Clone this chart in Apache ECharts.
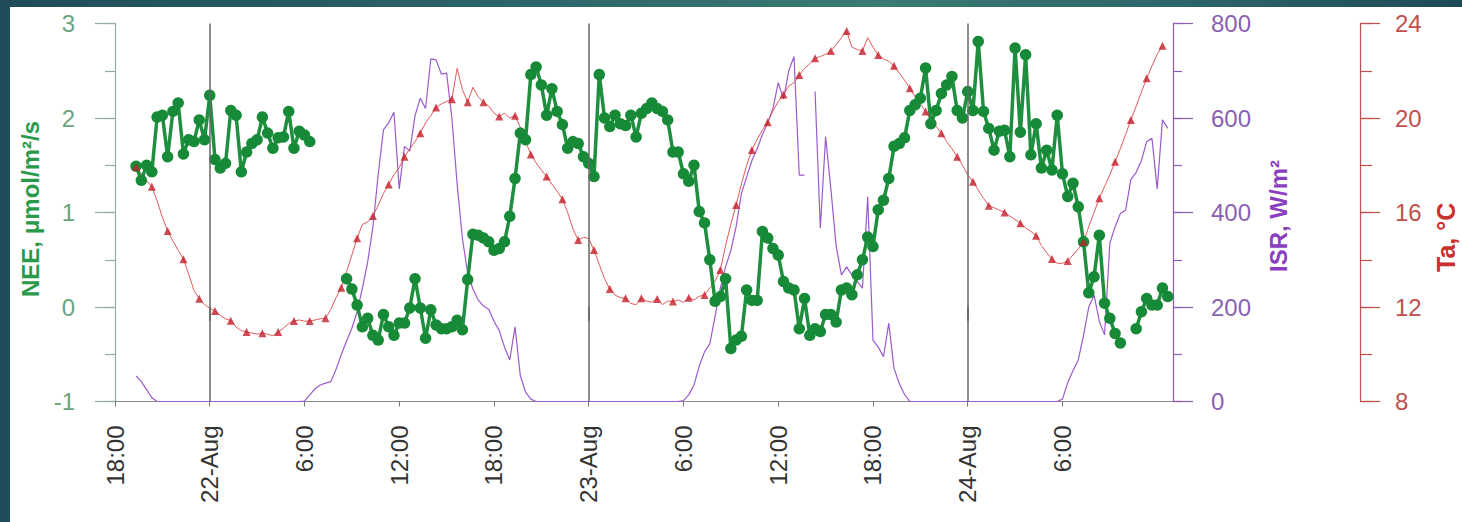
<!DOCTYPE html>
<html><head><meta charset="utf-8">
<script src="https://cdn.jsdelivr.net/npm/echarts@6/dist/echarts.min.js"></script>
<style>
html,body{margin:0;padding:0;width:1462px;height:522px;overflow:hidden;
background:linear-gradient(90deg,#1e4d59 0%,#2c6468 35%,#3b7b74 60%,#2a6066 85%,#1d4a57 100%);}
#chart{position:absolute;left:10px;top:7px;width:1452px;height:515px;background:#fff;}
</style></head><body><div id="chart"></div>
<script>
// time base: hours after 21-Aug 18:00; records every 20 minutes starting 19:20
const startHour = 4 / 3;
const stepHour = 1 / 3;
const xTickLabels = ['18:00','22-Aug','6:00','12:00','18:00','23-Aug','6:00','12:00','18:00','24-Aug','6:00'];
const xTickHours = [0,6,12,18,24,30,36,42,48,54,60];
const dayLineHours = [6, 30, 54];

// NEE, umol/m2/s (null = missing)
const nee = [
1.49,1.34,1.50,1.43,2.01,2.03,1.59,2.07,2.16,1.62,
1.77,1.75,1.98,1.77,2.24,1.56,1.47,1.52,2.08,2.03,
1.43,1.64,1.73,1.77,2.01,1.84,1.68,1.79,1.80,2.07,
1.68,1.86,1.82,1.75,null,null,null,null,null,null,
0.30,0.19,0.02,-0.21,-0.12,-0.30,-0.35,-0.08,-0.21,-0.30,
-0.17,-0.17,-0.01,0.30,-0.01,-0.33,-0.03,-0.19,-0.23,-0.23,
-0.21,-0.14,-0.24,0.29,0.77,0.76,0.73,0.69,0.60,0.62,
0.69,0.96,1.36,1.84,1.77,2.46,2.54,2.35,2.03,2.31,
2.07,1.93,1.68,1.75,1.73,1.59,1.52,1.38,2.46,2.00,
1.91,2.03,1.94,1.92,2.03,1.80,2.05,2.10,2.16,2.10,
2.07,1.98,1.64,1.64,1.41,1.33,1.50,1.01,0.89,0.50,
0.06,0.11,0.30,-0.44,-0.35,-0.31,0.18,0.07,0.07,0.80,
0.73,0.62,0.55,0.27,0.20,0.18,-0.23,0.09,-0.30,-0.23,
-0.26,-0.08,-0.08,-0.16,0.18,0.20,0.13,0.34,0.50,0.74,
0.64,1.03,1.13,1.36,1.70,1.73,1.79,2.08,2.14,2.21,
2.53,1.94,2.08,2.26,2.35,2.44,2.08,2.00,2.28,2.08,
2.81,2.07,1.89,1.66,1.86,1.87,1.59,2.74,1.85,2.67,
1.61,1.94,1.47,1.66,1.45,2.03,1.41,1.17,1.31,1.06,
0.69,0.15,0.32,0.76,0.04,-0.12,-0.28,-0.38,null,null,
-0.23,-0.05,0.09,0.02,0.02,0.20,0.11
];

// ISR, W/m2
const isr = [
54,42,25,8,0,0,0,0,0,0,
0,0,0,0,0,0,0,0,0,0,
0,0,0,0,0,0,0,0,0,0,
0,0,1,14,27,35,39,42,68,100,
128,155,190,240,295,370,480,575,590,612,
450,540,530,605,642,620,725,723,693,695,
600,460,345,272,238,215,202,195,170,150,
115,88,158,55,20,5,0,0,0,0,
0,0,0,0,0,0,0,0,0,0,
0,0,0,0,0,0,0,0,0,0,
0,0,0,0,2,14,35,75,105,122,
180,240,285,320,370,440,475,510,535,565,
590,620,675,640,700,730,479,479,null,656,
367,560,450,330,268,285,268,254,240,433,
130,115,95,166,70,38,15,0,0,0,
0,0,0,0,0,0,0,0,0,0,
0,0,0,0,0,0,0,0,0,0,
0,0,0,0,0,0,5,40,65,88,
140,200,225,170,141,335,370,398,405,470,
485,510,550,557,450,596,578
];

// Ta, degC
const ta = [
17.93,17.65,17.35,17.09,16.5,15.8,15.22,14.8,14.4,14.02,
13.4,12.7,12.35,12.1,11.95,11.83,11.65,11.5,11.42,11.15,
11.0,10.94,10.9,10.85,10.89,10.85,10.78,10.94,11.1,11.3,
11.41,11.45,11.4,11.41,11.45,11.5,11.52,11.9,12.4,12.82,
13.5,14.2,14.91,15.5,15.6,15.85,16.3,16.8,17.19,17.6,
17.9,18.36,18.7,19.0,19.35,19.8,20.1,20.44,20.6,20.7,
20.79,22.1,21.2,20.67,21.3,20.9,20.67,20.5,20.2,20.06,
20.2,20.0,20.10,19.6,19.0,18.46,18.1,17.8,17.52,17.2,
16.9,16.56,16.0,15.3,14.84,14.95,14.9,14.41,13.8,13.2,
12.76,12.5,12.4,12.37,12.15,12.1,12.37,12.25,12.2,12.34,
12.1,12.25,12.23,12.3,12.2,12.39,12.3,12.45,12.51,12.8,
13.1,13.57,14.6,15.5,16.32,17.2,18.0,18.65,19.1,19.5,
19.82,20.3,20.7,21.00,21.35,21.5,21.82,22.1,22.3,22.53,
22.6,22.7,22.84,23.1,23.4,23.68,23.0,22.9,22.84,23.4,
23.0,22.67,22.5,22.4,22.21,21.9,21.6,21.26,20.9,20.6,
20.27,19.95,19.65,19.35,19.0,18.7,18.36,18.0,17.6,17.30,
16.95,16.6,16.29,16.2,16.1,16.00,15.85,15.7,15.54,15.35,
15.2,15.02,14.6,14.3,14.03,13.85,13.85,13.95,14.2,14.45,
14.76,15.4,16.0,16.60,17.1,17.6,18.15,18.7,19.3,19.92,
20.5,21.1,21.68,22.2,22.7,23.06
];
const taMarkerEvery = 3; // hourly triangles

const hourOf = i => startHour + i * stepHour;
const neeData = nee.map((v, i) => [hourOf(i), v]);
const isrData = isr.map((v, i) => [hourOf(i), v]);
const taData = ta.map((v, i) => [hourOf(i), v]);
const taMarks = taData.filter((d, i) => i % taMarkerEvery === 0);

const FONT = '"Liberation Sans", Arial, sans-serif';
const C_NEE = '#1e8f3e', C_NEE_AX = '#8fb09c', C_NEE_LB = '#6aa47c', C_NEE_NM = '#2a9a4a';
const C_ISR = '#9a5ccc', C_ISR_AX = '#8e5cb8', C_ISR_LB = '#8b5fb3', C_ISR_NM = '#8a3fc0';
const C_TA = '#e05a5a', C_TA_MK = '#c41e2a', C_TA_AX = '#c0504d', C_TA_LB = '#c0504d', C_TA_NM = '#c8312c';

const chart = echarts.init(document.getElementById('chart'), null, {renderer: 'svg'});

// main axis with labelled major ticks
const mainY = (pos, offset, min, max, interval, axColor, lbColor, margin) => ({
  type: 'value', position: pos, offset, min, max, interval,
  splitLine: {show: false}, minorTick: {show: false},
  axisLine: {show: true, onZero: false, lineStyle: {color: axColor, width: 1.2}},
  axisTick: {show: true, inside: false, length: 20, lineStyle: {color: axColor, width: 1.2}},
  axisLabel: {margin, fontSize: 24, color: lbColor, fontFamily: FONT}
});
// companion axis drawing the short unlabelled half-step ticks
const minorY = (pos, offset, min, max, interval, axColor, len) => ({
  type: 'value', position: pos, offset, min, max, interval,
  splitLine: {show: false}, axisLabel: {show: false},
  axisLine: {show: false, onZero: false},
  axisTick: {show: true, inside: false, length: len, lineStyle: {color: axColor, width: 1.2}}
});

chart.setOption({
  animation: false,
  grid: {left: 105, right: 289, top: 16.5, bottom: 120.5},
  xAxis: [{
    type: 'value', min: 0, max: 67, position: 'bottom',
    axisLine: {show: true, onZero: false, lineStyle: {color: '#8a8a8a', width: 1}},
    axisTick: {show: true, length: 5, customValues: xTickHours, lineStyle: {color: '#777'}},
    axisLabel: {customValues: xTickHours, rotate: 90, margin: 24, fontSize: 24, color: '#333', fontFamily: FONT,
      formatter: v => xTickLabels[xTickHours.indexOf(v)] || ''},
    splitLine: {show: false}
  }, {
    type: 'value', min: 0, max: 67, position: 'bottom',
    axisLine: {show: false}, axisLabel: {show: false}, splitLine: {show: false},
    axisTick: {show: true, length: 14, customValues: dayLineHours, lineStyle: {color: '#5a5a5a', width: 1.5}}
  }],
  yAxis: [
    mainY('left', 0, -1, 3, 1, C_NEE_AX, C_NEE_LB, 40),
    mainY('right', 0, 0, 800, 200, C_ISR_AX, C_ISR_LB, 38),
    mainY('right', 187, 8, 24, 4, C_TA_AX, C_TA_LB, 35),
    minorY('left', 0, -1, 3, 0.5, C_NEE_AX, 10),
    minorY('right', 0, 0, 800, 100, C_ISR_AX, 9),
    minorY('right', 187, 8, 24, 2, C_TA_AX, 12)
  ],
  graphic: [
    {type: 'text', x: 20, y: 290, rotation: Math.PI / 2,
      style: {text: 'NEE, μmol/m²/s', font: 'bold 24px ' + FONT, fill: C_NEE_NM, align: 'left', verticalAlign: 'middle'}},
    {type: 'text', x: 1268, y: 265, rotation: Math.PI / 2,
      style: {text: 'ISR, W/m²', font: 'bold 24px ' + FONT, fill: C_ISR_NM, align: 'left', verticalAlign: 'middle'}},
    {type: 'text', x: 1436, y: 265, rotation: Math.PI / 2,
      style: {text: 'Ta, °C', font: 'bold 25px ' + FONT, fill: C_TA_NM, align: 'left', verticalAlign: 'middle'}}
  ],
  series: [
    {name: 'ISR', type: 'line', yAxisIndex: 1, data: isrData, showSymbol: false, z: 2,
      lineStyle: {color: C_ISR, width: 1.2}},
    {name: 'Ta', type: 'line', yAxisIndex: 2, data: taData, showSymbol: false, z: 3,
      lineStyle: {color: C_TA, width: 1}},
    {name: 'NEE', type: 'line', yAxisIndex: 0, data: neeData, z: 4,
      symbol: 'circle', symbolSize: 11.5, showAllSymbol: true,
      lineStyle: {color: C_NEE, width: 3.5}, itemStyle: {color: '#178a37'},
      markLine: {silent: true, symbol: 'none', label: {show: false},
        lineStyle: {color: '#666', width: 1.5, type: 'solid'},
        data: dayLineHours.map(h => ({xAxis: h}))}},
    {name: 'Ta marks', type: 'scatter', yAxisIndex: 2, data: taMarks, z: 5,
      symbol: 'triangle', symbolSize: 8, itemStyle: {color: C_TA_MK}}
  ]
});
</script></body></html>
